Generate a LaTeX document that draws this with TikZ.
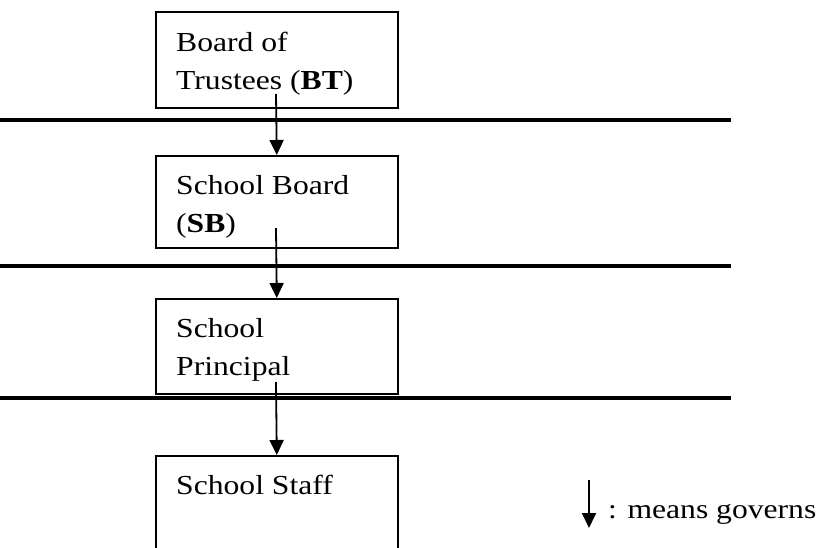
\documentclass[tikz,border=0pt]{standalone}
\usepackage{fontspec}
\setmainfont[FakeStretch=1.15]{Liberation Serif}
\usetikzlibrary{arrows.meta}
\begin{document}
\begin{tikzpicture}[x=1pt,y=-1pt,
  box/.style={draw, line width=1.6pt, minimum width=242pt, anchor=north west, inner sep=0pt},
  lbl/.style={anchor=base west, inner sep=0pt, font=\fontsize{27.5}{38}\selectfont},
  rule/.style={line width=4pt},
  gov/.style={line width=1.8pt, -{Triangle[length=15pt,width=14pt]}}]
\clip (0,0) rectangle (820,547);
% boxes
\node[box, minimum height=96pt] (bt) at (155,11) {};
\node[box, minimum height=92pt] (sb) at (155,155) {};
\node[box, minimum height=95pt] (sp) at (155,298) {};
\node[box, minimum height=120pt] (ss) at (155,455) {};
% texts
\node[lbl] (t1) at (176,51) {Board of};
\node[lbl] (t2) at (176,89) {Trustees (\textbf{BT})};
\node[lbl] (t3) at (176,194) {School Board};
\node[lbl] (t4) at (176,232) {(\textbf{SB})};
\node[lbl] (t5) at (176,337) {School};
\node[lbl] (t6) at (176,375) {Principal};
\node[lbl] (t7) at (176,494) {School Staff};
% horizontal rules
\coordinate (l1a) at (0,120); \coordinate (l1b) at (731,120);
\coordinate (l2a) at (0,266); \coordinate (l2b) at (731,266);
\coordinate (l3a) at (0,398); \coordinate (l3b) at (731,398);
\draw[rule] (l1a) -- (l1b);
\draw[rule] (l2a) -- (l2b);
\draw[rule] (l3a) -- (l3b);
% arrows
\coordinate (a1) at (276,94);
\coordinate (a2) at (276,228);
\coordinate (a3) at (276,382);
\draw[gov] (a1) -- (sb.north);
\draw[gov] (a2) -- (sp.north);
\draw[gov] (a3) -- (ss.north);
% legend
\coordinate (g1) at (589,480);
\coordinate (g2) at (589,528);
\draw[gov] (g1) -- (g2);
\node[lbl] (leg) at (608,518) {: means governs};
\end{tikzpicture}
\end{document}
